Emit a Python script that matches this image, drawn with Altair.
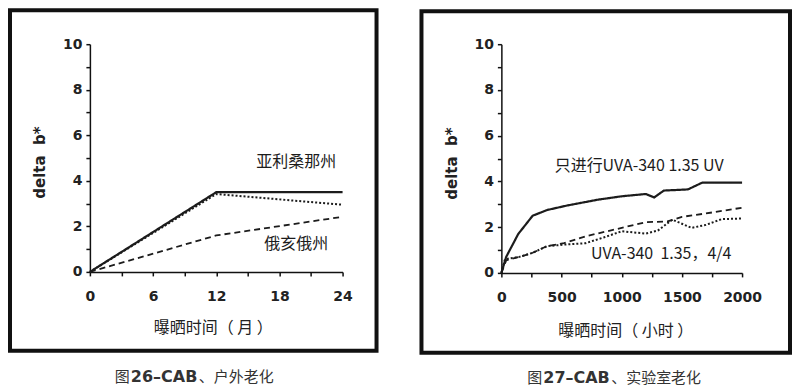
import altair as alt
import pandas as pd

# ---------------- data: outdoor (left) ----------------
months = [0, 12, 24]
arizona_solid = [0, 3.5, 3.5]
arizona_dotted = [0, 3.42, 2.95]
ohio_dashed = [0, 1.6, 2.42]

left_label_text = ["亚利桑那州", "俄亥俄州"]
left_label_x = [19.6, 19.6]
left_label_y = [4.82, 1.23]

# ---------------- data: laboratory (right) ----------------
hours_solid = [0, 40, 140, 260, 380, 550, 800, 1000, 1200, 1270, 1350, 1550, 1670, 2000]
uv_solid = [0, 0.7, 1.7, 2.5, 2.75, 2.95, 3.2, 3.35, 3.45, 3.3, 3.6, 3.65, 3.95, 3.95]
hours_dashed = [0, 40, 150, 260, 380, 520, 700, 1000, 1200, 1380, 1500, 1700, 2000]
cyc_dashed = [0, 0.55, 0.7, 0.88, 1.17, 1.3, 1.6, 1.97, 2.22, 2.25, 2.45, 2.6, 2.85]
hours_dotted = [0, 30, 150, 260, 380, 550, 700, 850, 1000, 1200, 1300, 1420, 1580, 1700, 1830, 2000]
cyc_dotted = [0, 0.6, 0.7, 0.88, 1.17, 1.25, 1.3, 1.55, 1.82, 1.72, 1.85, 2.33, 1.97, 2.1, 2.35, 2.38]

NB = "\u00a0"
right_label_text = ["只进行UVA-340 1.35 UV", "UVA-340" + NB + NB + "1.35，4/4"]
right_label_x = [1145, 1328]
right_label_y = [4.67, 0.83]

left_caption = ["图", "26–CAB", "、户外老化"]
right_caption = ["图", "27–CAB", "、实验室老化"]

series_domain = ["solid", "dotted", "dashed"]
dash_range = [[1, 0], [2, 2], [6, 4]]
width_range = [2.2, 1.8, 1.8]

INK = "#1c1c1c"
CJK = "Noto Sans CJK SC"
LAT = "DejaVu Sans"


def long_df(pairs):
    rows = []
    for name, xs, ys in pairs:
        for a, b in zip(xs, ys):
            rows.append({"x": a, "y": b, "series": name})
    return pd.DataFrame(rows)


def panel(df, labels_df, xmax, xstep, lstep, xtitle, xtitle_x, xtitle_y,
          ytitle_y, w, h, frame, caption, cap_x, cap_y):
    xaxis = alt.Axis(values=list(range(0, xmax + 1, xstep)), format="d",
                     labelExpr=f"datum.value % {lstep} == 0 ? datum.label : ''",
                     title=xtitle, titleX=xtitle_x, titleY=xtitle_y,
                     titleAlign="center", titleBaseline="middle",
                     labelBaseline="middle", labelPadding=21, labelFlush=False,
                     labelOverlap=False,
                     titleFont=CJK, titleFontSize=16, titleFontWeight="normal")
    yaxis = alt.Axis(values=list(range(0, 11)), format="d",
                     labelExpr="datum.value % 2 == 0 ? datum.label : ''",
                     title="delta" + NB + NB + "b*", titleX=-50, titleY=ytitle_y, titleAngle=270,
                     titleAlign="center", titleBaseline="middle",
                     labelPadding=4, labelFlush=False, labelBaseline="middle",
                     titleFont=LAT, titleFontSize=15, titleFontWeight="bold")
    X = alt.X("x:Q", scale=alt.Scale(domain=[0, xmax], nice=False), axis=xaxis)
    Y = alt.Y("y:Q", scale=alt.Scale(domain=[0, 10], nice=False), axis=yaxis)

    lines = alt.Chart(df).mark_line(color=INK).encode(
        x=X, y=Y,
        strokeDash=alt.StrokeDash("series:N", scale=alt.Scale(domain=series_domain, range=dash_range), legend=None),
        strokeWidth=alt.StrokeWidth("series:N", scale=alt.Scale(domain=series_domain, range=width_range), legend=None),
    )
    labels = alt.Chart(labels_df).mark_text(font=CJK, fontSize=16, color=INK).encode(
        x=X, y=Y, text="t:N")

    one = pd.DataFrame({"a": [0]})
    fx0, fx1, fy0, fy1 = frame
    box = alt.Chart(one).mark_rect(fillOpacity=0, stroke="#111", strokeWidth=4).encode(
        x=alt.value(fx0), x2=alt.value(fx1), y=alt.value(fy0), y2=alt.value(fy1))

    caps = []
    for txt, cx, bold in zip(caption, cap_x, [False, True, False]):
        caps.append(alt.Chart(one).mark_text(
            text=txt, align="left", baseline="middle",
            font=LAT if bold else CJK, fontSize=16 if bold else 15,
            fontWeight="bold" if bold else "normal", color="#333").encode(
            x=alt.value(cx), y=alt.value(cap_y)))

    return alt.layer(box, lines, labels, *caps).properties(width=w, height=h)


left_df = long_df([("solid", months, arizona_solid),
                   ("dotted", months, arizona_dotted),
                   ("dashed", months, ohio_dashed)])
right_df = long_df([("solid", hours_solid, uv_solid),
                    ("dotted", hours_dotted, cyc_dotted),
                    ("dashed", hours_dashed, cyc_dashed)])
left_labels = pd.DataFrame({"x": left_label_x, "y": left_label_y, "t": left_label_text})
right_labels = pd.DataFrame({"x": right_label_x, "y": right_label_y, "t": right_label_text})

left = panel(left_df, left_labels, 24, 3, 6, "曝晒时间（" + NB + "月" + NB + "）", 123, 56, 118,
             253, 228, (-80, 287, -34, 307), left_caption, [25, 41, 109], 333)
right = panel(right_df, right_labels, 2000, 250, 500, "曝晒时间（" + NB + "小时" + NB + "）", 124, 58, 119,
              241, 229, (-80, 289, -33, 309), right_caption, [26, 42, 110], 334)

chart = alt.hconcat(left, right, spacing=41).properties(padding=0).configure_view(
    stroke=None
).configure_axis(
    grid=False, domainColor="#111", domainWidth=1.5, tickColor="#111", tickWidth=1.5,
    tickSize=4, labelFont=LAT, labelFontSize=14, labelFontWeight="bold", labelColor="#222",
    titleColor="#222"
)

chart.save("out.html", embed_options={"renderer": "svg", "actions": False})
